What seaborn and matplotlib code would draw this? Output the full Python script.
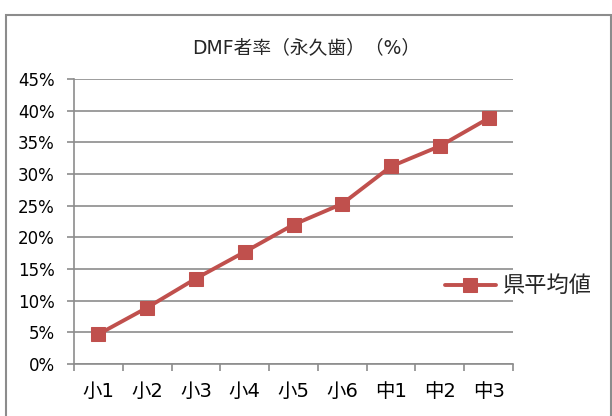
import matplotlib
matplotlib.use("Agg")
import matplotlib.pyplot as plt
import seaborn as sns
import pandas as pd
import numpy as np
from matplotlib.patches import Rectangle
from matplotlib.ticker import FixedLocator, PercentFormatter

grades = ["小1", "小2", "小3", "小4", "小5", "小6", "中1", "中2", "中3"]
values = [4.7, 8.9, 13.5, 17.7, 22.0, 25.3, 31.2, 34.4, 38.8]
series_name = "県平均値"
title = "DMF者率（永久歯）（%）"
yticks = [0, 5, 10, 15, 20, 25, 30, 35, 40, 45]

sns.set_theme(style="white")
plt.rcParams['font.family'] = ['DejaVu Sans', 'Noto Sans CJK JP']

df = pd.DataFrame({"grade": grades, "value": values, "series": series_name})

fig = plt.figure(figsize=(6.12, 4.16), dpi=100)
ax = fig.add_axes([74/612, 52/416, (513-74)/612, (364-79)/416])

sns.lineplot(data=df, x="grade", y="value", hue="series", sort=False,
             palette=["#C0504D"], marker="s", markersize=10, linewidth=2.8,
             markeredgecolor="#C0504D", ax=ax)

ax.set_xlim(-0.5, len(grades) - 0.5)
ax.set_ylim(0, 45)
ax.set_yticks(yticks)
ax.yaxis.set_major_formatter(PercentFormatter(decimals=0))
ax.yaxis.grid(True, color="#8c8c8c", linewidth=1.2)
ax.xaxis.grid(False)
ax.set_xlabel("")
ax.set_ylabel("")
for s in ["top", "right"]:
    ax.spines[s].set_visible(False)
for s in ["left", "bottom"]:
    ax.spines[s].set_color("#8c8c8c")
    ax.spines[s].set_linewidth(1.2)

ax.set_xticks(range(len(grades)))
ax.set_xticklabels(grades)
ax.xaxis.set_minor_locator(FixedLocator(np.arange(-0.5, len(grades), 1.0)))
ax.tick_params(axis="x", which="major", length=0, labelsize=14, pad=13, colors="black")
ax.tick_params(axis="x", which="minor", length=5, width=1.2, color="#8c8c8c", direction="out", bottom=True)
ax.tick_params(axis="y", which="major", length=5, width=1.2, color="#8c8c8c", direction="out",
               left=True, labelsize=12, pad=9, labelcolor="black")

ax.legend(loc="center left", bbox_to_anchor=(436/612, 1 - 286/416), bbox_transform=fig.transFigure,
          frameon=False, fontsize=16, handlelength=2.3, handletextpad=0.3, borderaxespad=0)

fig.text(306/612, 1 - 48/416, title, ha="center", va="center", fontsize=13.5)

fig.patches.append(Rectangle((6/612, -0.05), (611-6)/612, 1.05 - 15/416,
                             transform=fig.transFigure, fill=False,
                             edgecolor="#8c8c8c", linewidth=1.5))

fig.savefig("out.png", dpi=100)
